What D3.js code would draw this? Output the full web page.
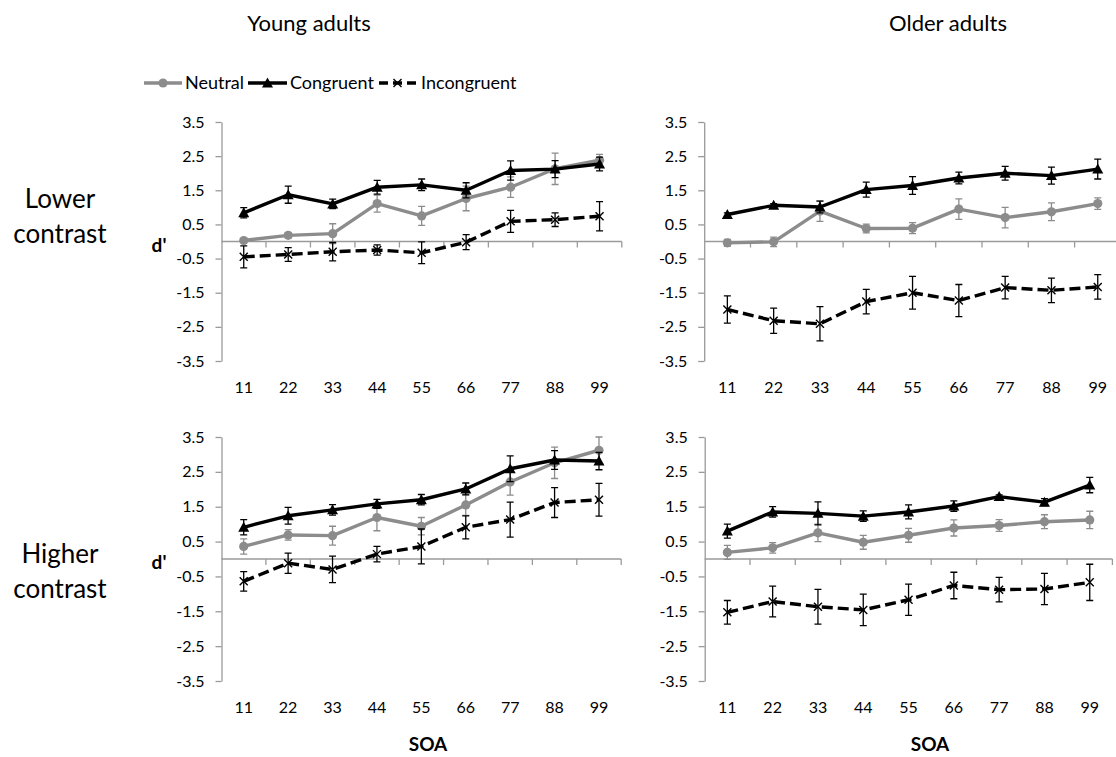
<!DOCTYPE html>
<html>
<head>
<meta charset="utf-8">
<script src="https://cdn.jsdelivr.net/npm/d3@7"></script>
<style>
  html, body { margin: 0; padding: 0; background: #fff; }
  svg { display: block; font-family: Lato, "Open Sans", sans-serif; }
</style>
</head>
<body>
<svg id="chart" width="1116" height="757"></svg>
<script>
// ---------------- DATA ----------------
const categories = [11, 22, 33, 44, 55, 66, 77, 88, 99];
const yTickValues = [-3.5, -2.5, -1.5, -0.5, 0.5, 1.5, 2.5, 3.5];
const seriesNames = ["Neutral", "Congruent", "Incongruent"];
const columnTitles = ["Young adults", "Older adults"];
const rowTitles = [["Lower", "contrast"], ["Higher", "contrast"]];

// Young adults, lower contrast
const youngLowNeutral     = [0.03, 0.18, 0.23, 1.11, 0.75, 1.26, 1.59, 2.13, 2.38];
const youngLowNeutralErr  = [0.05, 0.08, 0.29, 0.25, 0.28, 0.36, 0.30, 0.46, 0.17];
const youngLowCongruent   = [0.84, 1.37, 1.10, 1.59, 1.66, 1.50, 2.08, 2.12, 2.27];
const youngLowCongruentErr= [0.15, 0.25, 0.14, 0.20, 0.17, 0.22, 0.28, 0.25, 0.20];
const youngLowIncong      = [-0.45, -0.38, -0.30, -0.25, -0.33, -0.02, 0.59, 0.64, 0.74];
const youngLowIncongErr   = [0.32, 0.20, 0.27, 0.15, 0.32, 0.22, 0.32, 0.20, 0.43];

// Older adults, lower contrast
const olderLowNeutral     = [-0.04, -0.01, 0.89, 0.38, 0.39, 0.95, 0.70, 0.87, 1.11];
const olderLowNeutralErr  = [0.10, 0.14, 0.30, 0.13, 0.16, 0.30, 0.30, 0.26, 0.17];
const olderLowCongruent   = [0.79, 1.06, 1.01, 1.52, 1.64, 1.86, 2.00, 1.93, 2.12];
const olderLowCongruentErr= [0.05, 0.05, 0.17, 0.22, 0.26, 0.17, 0.20, 0.25, 0.29];
const olderLowIncong      = [-1.99, -2.32, -2.41, -1.76, -1.50, -1.73, -1.35, -1.43, -1.33];
const olderLowIncongErr   = [0.40, 0.37, 0.50, 0.36, 0.48, 0.47, 0.33, 0.36, 0.36];

// Young adults, higher contrast
const youngHighNeutral     = [0.36, 0.69, 0.67, 1.19, 0.94, 1.55, 2.21, 2.76, 3.12];
const youngHighNeutralErr  = [0.22, 0.15, 0.27, 0.38, 0.25, 0.30, 0.38, 0.45, 0.38];
const youngHighCongruent   = [0.91, 1.24, 1.41, 1.58, 1.70, 2.01, 2.59, 2.84, 2.81];
const youngHighCongruentErr= [0.22, 0.24, 0.15, 0.13, 0.15, 0.17, 0.37, 0.27, 0.25];
const youngHighIncong      = [-0.64, -0.12, -0.30, 0.14, 0.36, 0.91, 1.13, 1.62, 1.70];
const youngHighIncongErr   = [0.28, 0.29, 0.38, 0.22, 0.50, 0.33, 0.50, 0.43, 0.47];

// Older adults, higher contrast
const olderHighNeutral     = [0.19, 0.32, 0.75, 0.48, 0.68, 0.89, 0.96, 1.07, 1.12];
const olderHighNeutralErr  = [0.20, 0.15, 0.25, 0.20, 0.20, 0.23, 0.17, 0.20, 0.25];
const olderHighCongruent   = [0.80, 1.35, 1.31, 1.23, 1.35, 1.52, 1.79, 1.63, 2.12];
const olderHighCongruentErr= [0.20, 0.15, 0.33, 0.15, 0.20, 0.15, 0.05, 0.10, 0.22];
const olderHighIncong      = [-1.53, -1.22, -1.37, -1.46, -1.17, -0.76, -0.88, -0.86, -0.67];
const olderHighIncongErr   = [0.34, 0.44, 0.50, 0.45, 0.45, 0.38, 0.35, 0.45, 0.52];

// ---------------- LAYOUT / STYLE ----------------
const GREY = "#8c8c8c";
const AXIS = "#9a9a9a";
const panelLayout = [
  { x0: 221.5, x1: 621.8, yTop: 122, yBot: 361 },
  { x0: 704.2, x1: 1120.9, yTop: 122, yBot: 361 },
  { x0: 221.5, x1: 621.2, yTop: 437, yBot: 681 },
  { x0: 704.7, x1: 1112.4, yTop: 437, yBot: 681 }
];
const panelData = [
  [[youngLowNeutral, youngLowNeutralErr], [youngLowCongruent, youngLowCongruentErr], [youngLowIncong, youngLowIncongErr]],
  [[olderLowNeutral, olderLowNeutralErr], [olderLowCongruent, olderLowCongruentErr], [olderLowIncong, olderLowIncongErr]],
  [[youngHighNeutral, youngHighNeutralErr], [youngHighCongruent, youngHighCongruentErr], [youngHighIncong, youngHighIncongErr]],
  [[olderHighNeutral, olderHighNeutralErr], [olderHighCongruent, olderHighCongruentErr], [olderHighIncong, olderHighIncongErr]]
];
const seriesStyle = [
  { color: GREY, dash: null, marker: "circle", errColor: GREY },
  { color: "#000", dash: null, marker: "triangle", errColor: "#000" },
  { color: "#000", dash: "11,5", marker: "cross", errColor: "#000" }
];

const svg = d3.select("#chart");

function drawMarker(g, type, x, y, color) {
  if (type === "circle") {
    g.append("circle").attr("cx", x).attr("cy", y).attr("r", 4.6).attr("fill", color);
  } else if (type === "triangle") {
    g.append("path")
      .attr("d", `M${x},${y - 5.5}L${x + 5.5},${y + 4.5}L${x - 5.5},${y + 4.5}Z`)
      .attr("fill", color);
  } else {
    const s = 4;
    g.append("path")
      .attr("d", `M${x - s},${y - s}L${x + s},${y + s}M${x - s},${y + s}L${x + s},${y - s}`)
      .attr("stroke", color).attr("stroke-width", 1.4).attr("fill", "none");
  }
}

panelLayout.forEach((L, pi) => {
  const g = svg.append("g");
  const x = d3.scaleBand().domain(categories).range([L.x0, L.x1]).padding(0);
  const y = d3.scaleLinear().domain([-3.5, 3.5]).range([L.yBot, L.yTop]);
  const cx = c => x(c) + x.bandwidth() / 2;

  // Y axis
  const yAxis = d3.axisLeft(y).tickValues(yTickValues).tickSize(6).tickSizeOuter(0)
    .tickPadding(11).tickFormat(d => d.toFixed(1));
  const ya = g.append("g").attr("transform", `translate(${L.x0},0)`).call(yAxis);
  ya.select(".domain").attr("stroke", AXIS).attr("stroke-width", 1.3);
  ya.selectAll(".tick line").attr("stroke", AXIS).attr("stroke-width", 1.3);
  ya.selectAll(".tick text").attr("fill", "#000").style("font-size", "16px")
    .style("font-family", "Lato, 'Open Sans', sans-serif");

  // X axis at zero
  const y0 = y(0);
  g.append("line").attr("x1", L.x0).attr("x2", L.x1).attr("y1", y0).attr("y2", y0)
    .attr("stroke", AXIS).attr("stroke-width", 1.3);
  const bounds = categories.slice(1).map(c => x(c)).concat([L.x1]);
  g.selectAll(".xb").data(bounds).enter().append("line")
    .attr("x1", d => d).attr("x2", d => d).attr("y1", y0).attr("y2", y0 + 6)
    .attr("stroke", AXIS).attr("stroke-width", 1.3);
  g.selectAll(".xl").data(categories).enter().append("text")
    .attr("x", d => cx(d)).attr("y", L.yBot + 32)
    .attr("text-anchor", "middle").style("font-size", "16px").attr("fill", "#000")
    .text(d => d);

  // series
  panelData[pi].forEach((pair, si) => {
    const vals = pair[0], errs = pair[1], st = seriesStyle[si];
    const sg = g.append("g");
    categories.forEach((c, i) => {
      const px = cx(c), hi = y(vals[i] + errs[i]), lo = y(vals[i] - errs[i]);
      sg.append("path")
        .attr("d", `M${px},${hi}L${px},${lo}M${px - 3.5},${hi}L${px + 3.5},${hi}M${px - 3.5},${lo}L${px + 3.5},${lo}`)
        .attr("stroke", st.errColor).attr("stroke-width", 1.3).attr("fill", "none");
    });
    const line = d3.line().x((d, i) => cx(categories[i])).y(d => y(d));
    sg.append("path").datum(vals).attr("d", line)
      .attr("fill", "none").attr("stroke", st.color).attr("stroke-width", 3.4)
      .attr("stroke-linejoin", "round")
      .attr("stroke-dasharray", st.dash);
    vals.forEach((v, i) => drawMarker(sg, st.marker, cx(categories[i]), y(v), st.color));
  });

  if (pi % 2 === 0) {
    g.append("text").attr("x", 159).attr("y", y0 + 10).attr("text-anchor", "middle")
      .style("font-size", "19px").style("font-weight", "bold").attr("fill", "#000").text("d'");
  }
});

// Column titles
svg.append("text").attr("x", 309).attr("y", 31).attr("text-anchor", "middle")
  .style("font-size", "22px").attr("fill", "#000").text(columnTitles[0]);
svg.append("text").attr("x", 948).attr("y", 31).attr("text-anchor", "middle")
  .style("font-size", "22px").attr("fill", "#000").text(columnTitles[1]);

// Row titles
const rowBase = [208, 563];
rowTitles.forEach((lines, r) => {
  lines.forEach((t, k) => {
    svg.append("text").attr("x", 60).attr("y", rowBase[r] + k * 35).attr("text-anchor", "middle")
      .style("font-size", "26px").attr("fill", "#000").text(t);
  });
});

// SOA labels
svg.append("text").attr("x", 428).attr("y", 751).attr("text-anchor", "middle")
  .style("font-size", "19px").style("font-weight", "bold").attr("fill", "#000").text("SOA");
svg.append("text").attr("x", 930).attr("y", 751).attr("text-anchor", "middle")
  .style("font-size", "19px").style("font-weight", "bold").attr("fill", "#000").text("SOA");

// Legend
const legend = svg.append("g");
const legendItems = [
  { x1: 144, x2: 182, tx: 185 },
  { x1: 248, x2: 287, tx: 290 },
  { x1: 379, x2: 416, tx: 421 }
];
const ly = 83;
legendItems.forEach((it, i) => {
  const st = seriesStyle[i];
  legend.append("line").attr("x1", it.x1).attr("x2", it.x2).attr("y1", ly).attr("y2", ly)
    .attr("stroke", st.color).attr("stroke-width", 3.4)
    .attr("stroke-dasharray", st.dash ? "9,5" : null);
  drawMarker(legend, st.marker, (it.x1 + it.x2) / 2, ly, st.color);
  legend.append("text").attr("x", it.tx).attr("y", ly + 6).style("font-size", "18px")
    .attr("fill", "#000").text(seriesNames[i]);
});
</script>
</body>
</html>
